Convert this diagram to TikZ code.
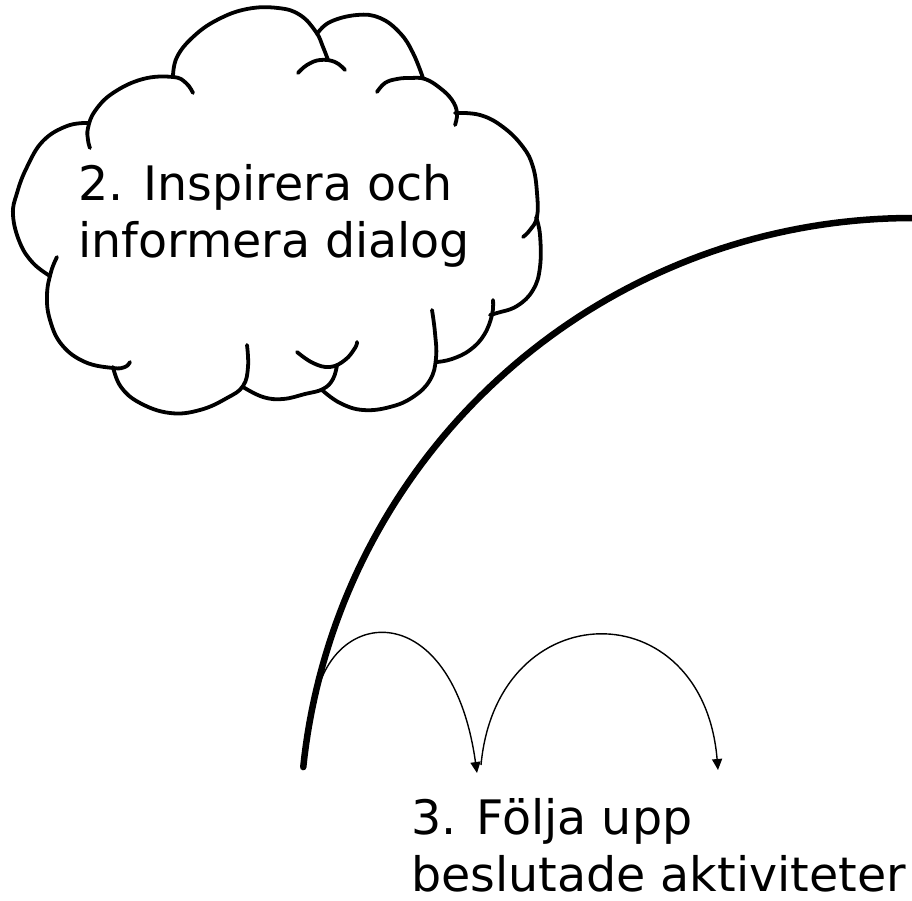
\documentclass[tikz,border=0pt]{standalone}
\usepackage{fontspec}
\setmainfont{DejaVu Sans}
\usetikzlibrary{arrows.meta}
\tikzset{
  cloudline/.style={line width=3.8pt, line cap=round, line join=round},
  bigarc/.style={line width=6.5pt, line cap=round},
  hop/.style={line width=1.4pt, -{Triangle[length=11pt,width=10pt]}},
  label/.style={inner sep=0pt, anchor=base west, align=left, font=\fontsize{47.5}{57}\selectfont}
}
\begin{document}
\begin{tikzpicture}[x=1pt,y=-1pt]
\useasboundingbox (0,0) rectangle (912,901);
\fill[white] (0,0) rectangle (912,901);

% cloud lobes
\draw[cloudline] plot[smooth, tension=0.7] coordinates {(193,93) (186,83) (173,77) (143,79) (113,93) (95,111) (88,128) (88,140) (90,148)};
\draw[cloudline] plot[smooth, tension=0.7] coordinates {(88,123) (67,126) (43,141) (27,167) (17,193) (13,215) (20,243) (33,263) (50,276)};
\draw[cloudline] plot[smooth, tension=0.7] coordinates {(57,257) (51,272) (47,295) (50,320) (62,345) (85,362) (113,368) (125,367) (130,362)};
\draw[cloudline] plot[smooth, tension=0.7] coordinates {(113,367) (121,387) (140,403) (170,413) (200,410) (227,398) (243,386) (248,367) (247,345)};
\draw[cloudline] plot[smooth, tension=0.7] coordinates {(243,387) (263,397) (283,399) (305,394) (323,389) (333,379) (337,365)};
\draw[cloudline] plot[smooth, tension=0.7] coordinates {(297,352) (313,363) (330,367) (345,360) (355,348) (357,342)};
\draw[cloudline] plot[smooth, tension=0.7] coordinates {(322,390) (340,403) (363,410) (390,407) (413,397) (430,380) (436,358) (435,333) (432,310)};
\draw[cloudline] plot[smooth, tension=0.7] coordinates {(437,362) (452,359) (470,350) (484,335) (492,315) (493,300)};
\draw[cloudline] plot[smooth, tension=0.7] coordinates {(536,217) (540,235) (540,267) (533,290) (517,306) (497,313) (490,315)};
\draw[cloudline] plot[smooth, tension=0.7] coordinates {(455,113) (480,115) (503,127) (523,147) (533,167) (537,193) (537,217) (530,230) (523,237)};
\draw[cloudline] plot[smooth, tension=0.7] coordinates {(377,92) (385,83) (397,79) (410,78) (425,79) (440,88) (452,100) (457,113) (455,125)};
\draw[cloudline] plot[smooth, tension=0.7] coordinates {(317,34) (330,22) (357,15) (380,18) (400,33) (413,53) (423,78)};
\draw[cloudline] plot[smooth, tension=0.7] coordinates {(298,73) (307,65) (320,60) (335,62) (345,70)};
\draw[cloudline] plot[smooth, tension=0.7] coordinates {(173,76) (177,57) (193,37) (217,20) (247,9) (278,8) (300,15) (316,32) (323,47) (328,60)};

\node[label] (t2) at (78,258) {2. Inspirera och\\informera dialog};

% big arc
\draw[bigarc] plot[domain=-174.1:-90, samples=80] ({912+612*cos(\x)},{830+612*sin(\x)});

% hops
\coordinate (s1) at (315,703);
\coordinate (e1) at (477,773);
\coordinate (s2) at (481,765);
\coordinate (e2) at (718,770);
\draw[hop] (s1) .. controls (330,605) and (452,595) .. (e1);
\draw[hop] (s2) .. controls (497,592) and (703,590) .. (e2);

\node[label] (t3) at (411,891) {3. Följa upp\\beslutade aktiviteter};
\end{tikzpicture}
\end{document}
